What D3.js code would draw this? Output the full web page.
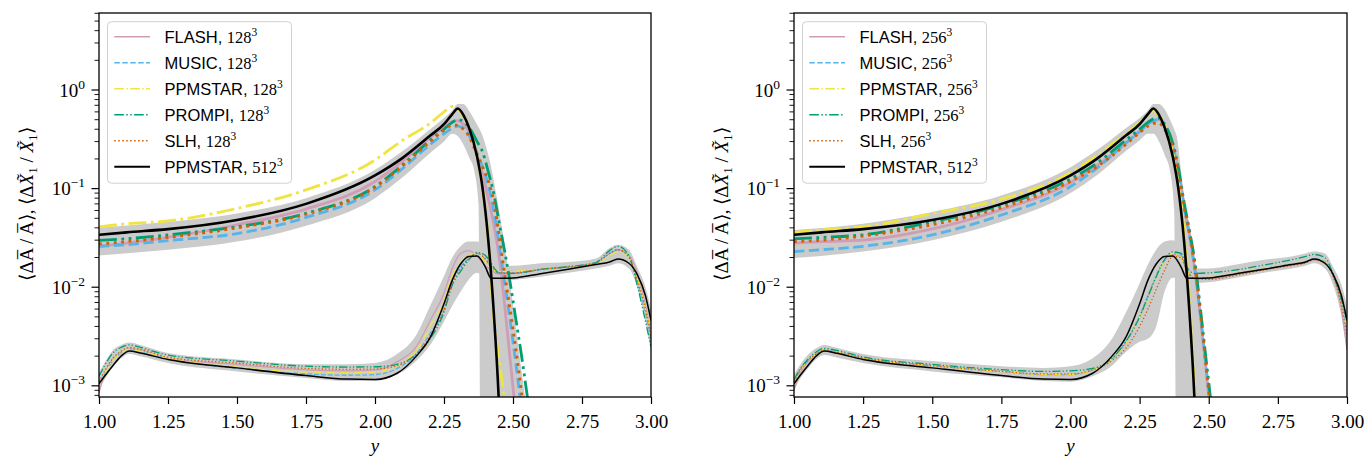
<!DOCTYPE html>
<html><head><meta charset="utf-8">
<script src="https://cdn.jsdelivr.net/npm/d3@7"></script>
<style>body{margin:0;background:#fff}svg{display:block}</style>
</head><body><svg id="c" width="1367" height="457"></svg>
<script>
// ---------------- DATA ----------------
const xTicks = [1.00, 1.25, 1.50, 1.75, 2.00, 2.25, 2.50, 2.75, 3.00];
const yMajor = [1e-3, 1e-2, 1e-1, 1e0];
const yExp = ["\u22123", "\u22122", "\u22121", "0"];
const codes = ["FLASH", "MUSIC", "PPMSTAR", "PROMPI", "SLH"];
const resolutions = ["128", "256"];
const refLabel = "PPMSTAR";
const refRes = "512";

// grid for <dA/A> (upper family)
const XA = [1.0,1.1,1.25,1.5,1.75,2.0,2.1,2.2,2.25,2.28,2.3,2.32,2.34,2.37,2.39,2.41,2.43,2.45,2.47,2.49,2.51,2.53,2.55,2.57];
const ppm512A = [0.034,0.036,0.0388,0.048,0.070,0.136,0.205,0.345,0.45,0.57,0.65,0.56,0.42,0.21,0.10,0.031,0.0057,5.7e-4,1e-5,1e-5,1e-5,1e-5,1e-5,1e-5];
// left panel, 128^3
const flashA_L  = [0.026,0.028,0.032,0.043,0.062,0.118,0.19,0.33,0.42,0.48,0.49,0.45,0.38,0.22,0.14,0.08,0.044,0.02,0.0065,0.0018,5e-4,1e-4,1e-5,1e-5];
const musicA_L  = [0.026,0.027,0.0297,0.035,0.051,0.097,0.16,0.28,0.36,0.41,0.43,0.41,0.35,0.23,0.165,0.11,0.06,0.027,0.011,0.0045,0.0017,6e-4,2e-4,1e-5];
const ppmA_L    = [0.041,0.044,0.047,0.063,0.097,0.195,0.31,0.46,0.60,0.68,0.64,0.55,0.42,0.21,0.10,0.032,0.005,0.0018,6.5e-4,1e-4,1e-5,1e-5,1e-5,1e-5];
const prompiA_L = [0.0298,0.031,0.034,0.041,0.056,0.105,0.174,0.31,0.40,0.47,0.50,0.48,0.42,0.30,0.235,0.15,0.09,0.045,0.023,0.011,0.0048,0.0021,8.5e-4,3.4e-4];
const slhA_L    = [0.0275,0.029,0.032,0.040,0.055,0.103,0.17,0.30,0.39,0.44,0.44,0.40,0.34,0.22,0.165,0.12,0.075,0.033,0.0135,0.0058,0.0024,9e-4,3e-4,1e-4];
// right panel, 256^3
const flashA_R  = [0.028,0.029,0.030,0.039,0.061,0.115,0.175,0.29,0.38,0.45,0.49,0.50,0.43,0.27,0.155,0.07,0.035,0.015,0.005,0.0015,4e-4,1e-4,1e-5,1e-5];
const musicA_R  = [0.023,0.024,0.026,0.034,0.054,0.105,0.165,0.29,0.38,0.45,0.49,0.50,0.43,0.27,0.15,0.068,0.034,0.015,0.0052,0.0016,4.5e-4,1e-4,1e-5,1e-5];
const ppmA_R    = [0.036,0.038,0.041,0.056,0.078,0.145,0.22,0.36,0.46,0.56,0.62,0.55,0.44,0.23,0.115,0.04,0.008,9e-4,1e-4,1e-5,1e-5,1e-5,1e-5,1e-5];
const prompiA_R = [0.031,0.032,0.034,0.046,0.068,0.125,0.185,0.31,0.40,0.47,0.51,0.52,0.45,0.29,0.165,0.075,0.038,0.018,0.006,0.0019,6e-4,1.5e-4,1e-5,1e-5];
const slhA_R    = [0.029,0.030,0.033,0.043,0.064,0.118,0.17,0.28,0.37,0.43,0.46,0.46,0.40,0.26,0.15,0.068,0.035,0.016,0.0055,0.0016,4.5e-4,1e-4,1e-5,1e-5];
// grey envelope around <dA/A>
const bandAx     = [1.0,1.25,1.5,1.75,2.0,2.1,2.2,2.25,2.28,2.3,2.32,2.34,2.36,2.375,2.385,2.4,2.42,2.44,2.46,2.48,2.5,2.52,2.54,2.56];
const bandAlo_L  = [0.021,0.024,0.029,0.042,0.08,0.13,0.23,0.30,0.36,0.34,0.28,0.21,0.15,0.07,1e-5,1e-5,1e-5,1e-5,1e-5,1e-5,1e-5,1e-5,1e-5,1e-5];
const bandAhi_L  = [0.040,0.046,0.056,0.080,0.155,0.24,0.40,0.52,0.62,0.72,0.72,0.62,0.50,0.42,0.37,0.28,0.17,0.085,0.04,0.017,0.0065,0.0024,9e-4,3e-4];
const bandAlo_R  = [0.0198,0.023,0.030,0.046,0.09,0.14,0.24,0.31,0.36,0.36,0.30,0.22,0.15,0.06,1e-5,1e-5,1e-5,1e-5,1e-5,1e-5,1e-5,1e-5,1e-5,1e-5];
const bandAhi_R  = [0.038,0.044,0.058,0.085,0.165,0.25,0.41,0.52,0.62,0.72,0.72,0.64,0.50,0.40,0.33,0.15,0.05,0.02,0.008,0.0028,9e-4,2.5e-4,1e-5,1e-5];

// grid for <dX1/X1> (lower family)
const XB = [1.0,1.02,1.05,1.08,1.11,1.15,1.25,1.5,1.75,1.9,2.0,2.08,2.15,2.2,2.25,2.28,2.31,2.34,2.37,2.4,2.42,2.45,2.5,2.6,2.7,2.8,2.85,2.88,2.92,2.95,2.98,3.0];
const ppm512X = [1.05e-3,1.25e-3,1.6e-3,2.0e-3,2.25e-3,2.15e-3,1.85e-3,1.52e-3,1.27e-3,1.17e-3,1.16e-3,1.34e-3,2.0e-3,3.1e-3,6.8e-3,0.0118,0.0172,0.0205,0.0207,0.0160,0.0124,0.0123,0.0124,0.0137,0.0152,0.0170,0.0180,0.0193,0.0175,0.0135,0.0082,0.0046];
const flashX_L  = [8.5e-4,1.3e-3,1.85e-3,2.2e-3,2.4e-3,2.3e-3,1.9e-3,1.65e-3,1.45e-3,1.42e-3,1.45e-3,1.75e-3,2.5e-3,4.6e-3,8.7e-3,0.0155,0.022,0.0235,0.0205,0.0165,0.015,0.0135,0.0138,0.0152,0.0162,0.0176,0.022,0.0238,0.021,0.014,0.0065,0.0035];
const musicX_L  = [1.05e-3,1.3e-3,1.8e-3,2.15e-3,2.35e-3,2.25e-3,1.88e-3,1.5e-3,1.32e-3,1.28e-3,1.3e-3,1.5e-3,2.1e-3,3.4e-3,5.9e-3,0.0115,0.016,0.0195,0.022,0.019,0.016,0.0138,0.0138,0.015,0.016,0.0175,0.022,0.024,0.020,0.0115,0.0055,0.003];
const ppmX_L    = [1.0e-3,1.3e-3,1.8e-3,2.15e-3,2.35e-3,2.25e-3,1.9e-3,1.55e-3,1.38e-3,1.36e-3,1.38e-3,1.6e-3,2.3e-3,4.0e-3,7.4e-3,0.013,0.018,0.021,0.022,0.018,0.0155,0.0145,0.0145,0.0152,0.0162,0.0175,0.021,0.023,0.020,0.0125,0.006,0.0035];
const prompiX_L = [1.25e-3,1.6e-3,2.15e-3,2.45e-3,2.6e-3,2.45e-3,2.05e-3,1.78e-3,1.58e-3,1.55e-3,1.56e-3,1.65e-3,2.1e-3,3.0e-3,5.6e-3,0.0105,0.0145,0.019,0.0225,0.021,0.0175,0.014,0.0138,0.0152,0.0162,0.0178,0.0235,0.026,0.021,0.0105,0.0045,0.0025];
const slhX_L    = [1.1e-3,1.4e-3,1.9e-3,2.25e-3,2.45e-3,2.35e-3,1.95e-3,1.7e-3,1.5e-3,1.47e-3,1.48e-3,1.6e-3,2.1e-3,3.2e-3,5.9e-3,0.011,0.0155,0.0195,0.022,0.0195,0.0165,0.014,0.014,0.0152,0.016,0.0175,0.022,0.024,0.020,0.012,0.006,0.0032];
const flashX_R  = [9e-4,1.3e-3,1.75e-3,2.1e-3,2.3e-3,2.2e-3,1.9e-3,1.6e-3,1.4e-3,1.3e-3,1.3e-3,1.45e-3,1.85e-3,2.7e-3,5.0e-3,8.0e-3,0.013,0.0185,0.0215,0.020,0.0145,0.0122,0.0122,0.0134,0.0152,0.0168,0.0178,0.019,0.0175,0.013,0.006,0.0023];
const musicX_R  = [1.1e-3,1.4e-3,1.8e-3,2.1e-3,2.3e-3,2.2e-3,1.9e-3,1.6e-3,1.4e-3,1.3e-3,1.3e-3,1.45e-3,1.85e-3,2.8e-3,5.1e-3,8.2e-3,0.0132,0.0188,0.022,0.021,0.015,0.0125,0.0125,0.0137,0.0155,0.0172,0.018,0.0195,0.0182,0.0135,0.0075,0.0038];
const ppmX_R    = [1.1e-3,1.4e-3,1.8e-3,2.1e-3,2.3e-3,2.2e-3,1.9e-3,1.6e-3,1.4e-3,1.3e-3,1.3e-3,1.45e-3,1.85e-3,2.7e-3,5.0e-3,8.0e-3,0.013,0.0185,0.022,0.020,0.0145,0.0125,0.0126,0.0138,0.0155,0.0172,0.018,0.0192,0.018,0.0135,0.008,0.004];
const prompiX_R = [1.15e-3,1.45e-3,1.85e-3,2.2e-3,2.4e-3,2.3e-3,1.96e-3,1.65e-3,1.46e-3,1.4e-3,1.42e-3,1.5e-3,1.9e-3,2.8e-3,5.0e-3,8.0e-3,0.0128,0.019,0.0228,0.022,0.016,0.0138,0.014,0.015,0.0168,0.019,0.0205,0.0215,0.020,0.0135,0.0075,0.0045];
const slhX_R    = [1.1e-3,1.4e-3,1.8e-3,2.1e-3,2.3e-3,2.2e-3,1.9e-3,1.6e-3,1.4e-3,1.32e-3,1.32e-3,1.45e-3,1.8e-3,2.4e-3,4.0e-3,6.0e-3,9.5e-3,0.0148,0.0205,0.020,0.015,0.0122,0.012,0.0132,0.015,0.0166,0.0176,0.019,0.0178,0.0128,0.0065,0.0032];
const bandXlo_L = [9e-4,1.15e-3,1.55e-3,1.9e-3,2.1e-3,2.0e-3,1.7e-3,1.4e-3,1.2e-3,1.12e-3,1.12e-3,1.3e-3,1.8e-3,2.6e-3,4.5e-3,6.5e-3,0.009,0.012,0.014,0.012,0.011,0.0115,0.0118,0.0128,0.014,0.0155,0.0165,0.0175,0.0155,0.010,0.0045,0.0022];
const bandXhi_L = [1.35e-3,1.7e-3,2.3e-3,2.6e-3,2.75e-3,2.6e-3,2.15e-3,1.85e-3,1.65e-3,1.65e-3,1.7e-3,2.1e-3,3.3e-3,6.5e-3,0.013,0.020,0.026,0.029,0.029,0.024,0.018,0.0165,0.0165,0.0175,0.018,0.0195,0.025,0.027,0.024,0.016,0.010,0.006];
const bandXlo_R = [9e-4,1.15e-3,1.5e-3,1.85e-3,2.05e-3,1.95e-3,1.7e-3,1.4e-3,1.22e-3,1.12e-3,1.1e-3,1.25e-3,1.6e-3,2.2e-3,2.8e-3,3.0e-3,4.0e-3,9e-3,0.0125,0.012,0.011,0.011,0.0112,0.0125,0.014,0.0155,0.0165,0.0175,0.0155,0.0105,0.005,0.0022];
const bandXhi_R = [1.3e-3,1.6e-3,2.05e-3,2.4e-3,2.6e-3,2.45e-3,2.1e-3,1.78e-3,1.58e-3,1.52e-3,1.58e-3,1.9e-3,3.0e-3,5.5e-3,0.011,0.017,0.024,0.029,0.030,0.025,0.018,0.0155,0.0155,0.017,0.019,0.0205,0.022,0.023,0.022,0.016,0.0105,0.0065];

// ---------------- STYLE ----------------
const colors = ["#D09CB6", "#56B4E9", "#F0E442", "#009E73", "#D55E00"];
const dashes = [null, [3.7,1.6], [6.4,1.6,1,1.6], [6.4,1.6,1,1.6,1,1.6], [1,1.65]];
const bandColor = "#cbcbcb";
const serif = "'Liberation Serif','Times New Roman',serif";
const sans = "'Liberation Sans',Arial,sans-serif";
const lwA = 2.8, lwX = 1.3, lwLeg = 1.5;
const dashStr = (d, lw) => d ? d.map(v => (v*lw).toFixed(2)).join(",") : null;

const panels = [
  {x0:99, x1:651, res:resolutions[0],
   A:[flashA_L,musicA_L,ppmA_L,prompiA_L,slhA_L], X:[flashX_L,musicX_L,ppmX_L,prompiX_L,slhX_L],
   bAlo:bandAlo_L, bAhi:bandAhi_L, bXlo:bandXlo_L, bXhi:bandXhi_L},
  {x0:794, x1:1347, res:resolutions[1],
   A:[flashA_R,musicA_R,ppmA_R,prompiA_R,slhA_R], X:[flashX_R,musicX_R,ppmX_R,prompiX_R,slhX_R],
   bAlo:bandAlo_R, bAhi:bandAhi_R, bXlo:bandXlo_R, bXhi:bandXhi_R}
];

const yTop = 13, yBot = 397;
const svg = d3.select("#c");
const defs = svg.append("defs");

panels.forEach((p, pi) => {
  const x = d3.scaleLinear().domain([1, 3]).range([p.x0, p.x1]);
  const y = d3.scaleLog().domain([7.7e-4, 6.04]).range([yBot, yTop]);
  const g = svg.append("g");
  const cid = "clip" + pi;
  defs.append("clipPath").attr("id", cid).append("rect")
    .attr("x", p.x0).attr("y", yTop).attr("width", p.x1 - p.x0).attr("height", yBot - yTop);
  const plot = g.append("g").attr("clip-path", `url(#${cid})`);

  const line = d3.line().x(d => x(d[0])).y(d => y(d[1])).curve(d3.curveMonotoneX);
  const area = d3.area().x(d => x(d[0])).y0(d => y(d[1])).y1(d => y(d[2])).curve(d3.curveMonotoneX);

  // bands
  plot.append("path").attr("d", area(bandAx.map((v,i)=>[v,p.bAlo[i],p.bAhi[i]]))).attr("fill", bandColor);
  plot.append("path").attr("d", area(XB.map((v,i)=>[v,p.bXlo[i],p.bXhi[i]]))).attr("fill", bandColor);

  // colored series
  codes.forEach((c, ci) => {
    plot.append("path").attr("d", line(XA.map((v,i)=>[v,p.A[ci][i]])))
      .attr("fill","none").attr("stroke",colors[ci]).attr("stroke-width",lwA)
      .attr("stroke-dasharray",dashStr(dashes[ci],lwA)).attr("stroke-linejoin","round");
    plot.append("path").attr("d", line(XB.map((v,i)=>[v,p.X[ci][i]])))
      .attr("fill","none").attr("stroke",colors[ci]).attr("stroke-width",lwX)
      .attr("stroke-dasharray",dashStr(dashes[ci],lwX)).attr("stroke-linejoin","round");
  });
  // reference
  plot.append("path").attr("d", line(XA.map((v,i)=>[v,ppm512A[i]])))
    .attr("fill","none").attr("stroke","#000").attr("stroke-width",2.6);
  plot.append("path").attr("d", line(XB.map((v,i)=>[v,ppm512X[i]])))
    .attr("fill","none").attr("stroke","#000").attr("stroke-width",1.5);

  // x axis
  const xa = g.append("g").attr("transform", `translate(0,${yBot})`)
    .call(d3.axisBottom(x).tickValues(xTicks).tickFormat(d3.format(".2f")).tickSize(7).tickPadding(10.5));
  xa.select(".domain").remove();
  xa.selectAll("line").attr("stroke-width", 1.2);
  xa.selectAll("text").attr("font-family", serif).attr("font-size", 19).attr("fill","#000");

  // y ticks
  const minor = [];
  for (let k = -4; k <= 0; k++) for (let m = 2; m <= 9; m++) {
    const v = m * Math.pow(10, k);
    if (v >= 7.7e-4 && v <= 6.04) minor.push(v);
  }
  g.selectAll(".ymin").data(minor).join("line")
    .attr("x1", p.x0 - 4.5).attr("x2", p.x0).attr("y1", d => y(d)).attr("y2", d => y(d))
    .attr("stroke","#000").attr("stroke-width",0.9);
  g.selectAll(".ymaj").data(yMajor).join("line")
    .attr("x1", p.x0 - 7.5).attr("x2", p.x0).attr("y1", d => y(d)).attr("y2", d => y(d))
    .attr("stroke","#000").attr("stroke-width",1.2);
  yMajor.forEach((v, i) => {
    const t = g.append("text").attr("x", p.x0 - 14).attr("y", y(v) + 6.5)
      .attr("text-anchor","end").attr("font-family", serif).attr("font-size", 19);
    t.append("tspan").text("10");
    t.append("tspan").attr("dy", -8).attr("font-size", 13.5).text(yExp[i]);
  });

  // frame
  g.append("rect").attr("x", p.x0).attr("y", yTop).attr("width", p.x1 - p.x0).attr("height", yBot - yTop)
    .attr("fill","none").attr("stroke","#000").attr("stroke-width",1.3);

  // axis labels
  g.append("text").attr("x", (p.x0 + p.x1)/2).attr("y", 452).attr("text-anchor","middle")
    .attr("font-family", serif).attr("font-style","italic").attr("font-size", 19).text("y");
  const yl = g.append("text").attr("transform", `translate(${p.x0 - 66},204) rotate(-90)`)
    .attr("text-anchor","middle").attr("font-family", serif).attr("font-size", 19);
  yl.append("tspan").text("\u27E8\u0394A\u0305 / A\u0305\u27E9, \u27E8\u0394");
  yl.append("tspan").attr("font-style","italic").text("X\u0303");
  yl.append("tspan").attr("font-size", 13).attr("dy", 4).text("1");
  yl.append("tspan").attr("dy", -4).text(" / ");
  yl.append("tspan").attr("font-style","italic").text("X\u0303");
  yl.append("tspan").attr("font-size", 13).attr("dy", 4).text("1");
  yl.append("tspan").attr("dy", -4).text("\u27E9");

  // legend
  const lx = p.x0 + 8.5, ly = 21.7;
  const lg = g.append("g");
  lg.append("rect").attr("x", lx).attr("y", ly).attr("width", 184).attr("height", 161.5).attr("rx", 4)
    .attr("fill","#fff").attr("fill-opacity",0.8).attr("stroke","#d0d0d0").attr("stroke-width",1);
  const entries = codes.map((c, ci) => ({name:c, res:p.res, color:colors[ci], dash:dashes[ci]}))
    .concat([{name:refLabel, res:refRes, color:"#000", dash:null}]);
  entries.forEach((e, i) => {
    const cy = 36.7 + i * 26;
    lg.append("line").attr("x1", p.x0 + 15.3).attr("x2", p.x0 + 51).attr("y1", cy).attr("y2", cy)
      .attr("stroke", e.color).attr("stroke-width", e.color === "#000" ? 1.9 : lwLeg)
      .attr("stroke-dasharray", dashStr(e.dash, lwLeg));
    const t = lg.append("text").attr("x", p.x0 + 65.5).attr("y", cy + 5.8).attr("font-size", 16.5);
    t.append("tspan").attr("font-family", sans).text(e.name + ", ");
    t.append("tspan").attr("font-family", serif).text(e.res);
    t.append("tspan").attr("font-family", serif).attr("font-size", 11.5).attr("dy", -6.5).text("3");
  });
});
</script></body></html>
